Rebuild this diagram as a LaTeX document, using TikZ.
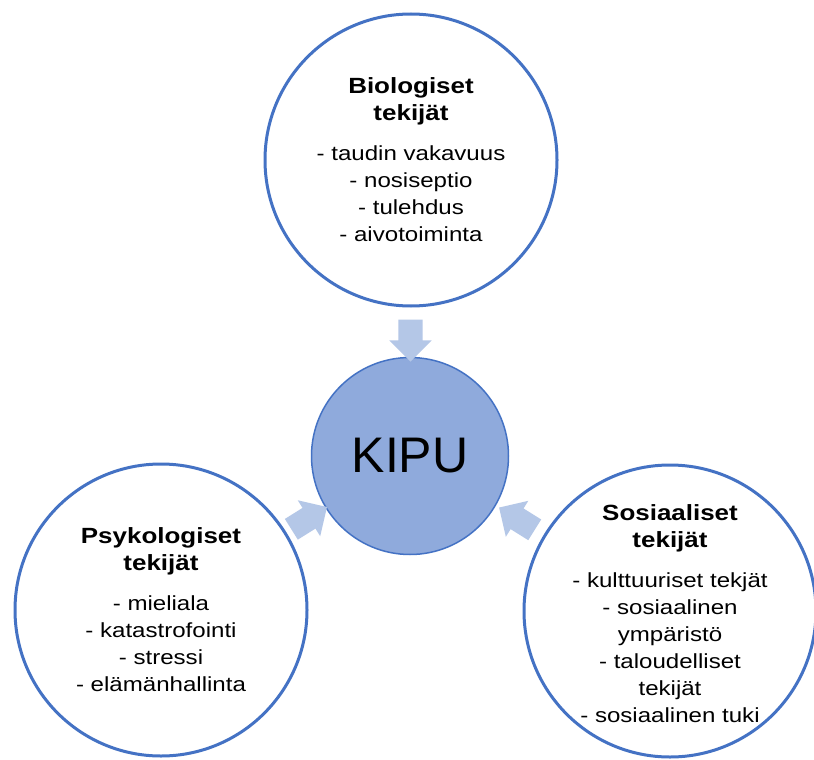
\documentclass[tikz,border=0pt]{standalone}
\usepackage{fontspec}
\setmainfont{Liberation Sans}
\newfontfamily\widesans{Liberation Sans}[FakeStretch=1.18]
\usetikzlibrary{shapes.arrows,calc}

\definecolor{ringblue}{HTML}{4472C4}
\definecolor{kipufill}{HTML}{8FAADC}
\definecolor{arrowfill}{HTML}{B4C7E7}

\newcommand{\fixspace}{\spaceskip=\fontdimen2\font\relax\xspaceskip=\fontdimen2\font\relax}
\newcommand{\headfont}{\widesans\fontsize{22}{27}\selectfont\bfseries\fixspace}
\newcommand{\itemfont}{\widesans\fontsize{20.4}{27}\selectfont\fixspace}

\begin{document}
\begin{tikzpicture}[x=1pt, y=1pt,
    factor/.style={circle, draw=ringblue, line width=3pt, fill=white, minimum size=292pt, inner sep=0pt},
    factortext/.style={text width=215pt, align=center, inner sep=0pt},
    blockarrow/.style={single arrow, fill=arrowfill, minimum height=42pt, minimum width=0pt,
        inner xsep=0pt, inner ysep=12pt, single arrow head extend=9pt}]
    % Page frame
    \fill[white] (0,0) rectangle (814,-760);
    \useasboundingbox (0,0) rectangle (814,-760);

    % Centres
    \coordinate (Top) at (411,-160);
    \coordinate (Left) at (161,-610);
    \coordinate (Right) at (670,-611);

    % Outer circles
    \node[factor] (Bio) at (Top) {};
    \node[factortext] (BioText) at (Bio) {{\headfont Biologiset\\tekijät\par}\vspace{13pt}
        {\itemfont - taudin vakavuus\\- nosiseptio\\- tulehdus\\- aivotoiminta\par}};

    \node[factor] (Psy) at (Left) {};
    \node[factortext] (PsyText) at (Psy) {{\headfont Psykologiset\\tekijät\par}\vspace{13pt}
        {\itemfont - mieliala\\- katastrofointi\\- stressi\\- elämänhallinta\par}};

    \node[factor] (Sos) at (Right) {};
    \node[factortext, yshift=-3pt] (SosText) at (Sos) {{\headfont Sosiaaliset\\tekijät\par}\vspace{13pt}
        {\itemfont - kulttuuriset tekjät\\- sosiaalinen\\ympäristö\\- taloudelliset\\tekijät\\- sosiaalinen tuki\par}};

    % Centre circle
    \node[circle, draw=ringblue, line width=1.5pt, fill=kipufill, minimum size=197pt, inner sep=0pt,
        font=\fontsize{50}{60}\selectfont] (Kipu) at (410,-456) {KIPU};

    % Block arrows into the centre
    \node[blockarrow, rotate=-90] (ArrBio) at ($(Bio.south)!0.55!(Kipu.north)$) {};
    \node[blockarrow, rotate=32] (ArrPsy) at ($(Psy.32)!0.45!(Kipu.212)$) {};
    \node[blockarrow, rotate=148] (ArrSos) at ($(Sos.148)!0.45!(Kipu.328)$) {};

\end{tikzpicture}
\end{document}
